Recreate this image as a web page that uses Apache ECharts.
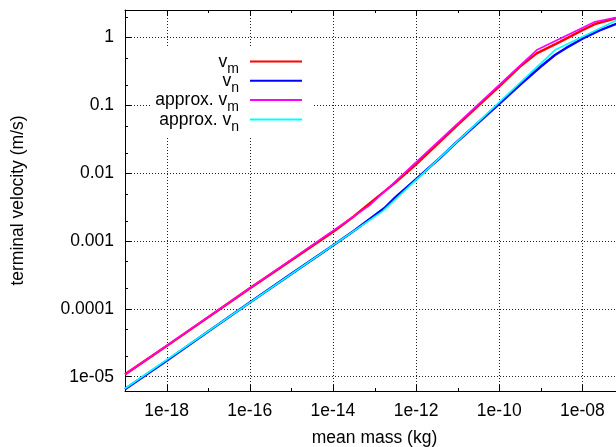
<!DOCTYPE html>
<html><head><meta charset="utf-8">
<script src="https://cdn.jsdelivr.net/npm/echarts@6/dist/echarts.min.js"></script>
<style>html,body{margin:0;padding:0;background:#fff}#c{width:616px;height:447px}</style>
</head><body><div id="c"></div>
<script>
// ---- data (mass in kg, velocity in m/s) ----
const massVm = [1e-19, 1e-18, 1e-17, 1e-16, 1e-15, 1e-14, 3.16e-14, 7.5e-14, 3.16e-13, 1e-12, 1e-11, 1e-10, 3.16e-10, 7.94e-10, 2.88e-9, 1e-8, 2e-8, 6.3e-8, 1e-7];
const vm     = [1.08e-5, 2.84e-5, 7.50e-5, 2.00e-4, 5.19e-4, 1.36e-3, 2.29e-3, 3.55e-3, 7.24e-3, 1.35e-2, 5.13e-2, 0.19, 0.372, 0.581, 0.861, 1.28, 1.57, 1.91, 2.0];

const massVn = [1e-19, 1e-18, 1e-17, 1e-16, 1e-15, 1e-14, 3.16e-14, 1.74e-13, 3.16e-13, 1e-12, 3.63e-12, 1e-11, 1e-10, 3.16e-10, 1e-9, 2.19e-9, 3.98e-9, 1e-8, 2.51e-8, 6.3e-8, 1e-7];
const vn     = [6.55e-6, 1.72e-5, 4.62e-5, 1.24e-4, 3.27e-4, 8.55e-4, 1.40e-3, 3.05e-3, 4.37e-3, 8.13e-3, 1.64e-2, 2.95e-2, 0.105, 0.20, 0.372, 0.55, 0.692, 0.955, 1.26, 1.57, 1.66];

const massApproxVm = [1e-19, 7.5e-14, 7.94e-10, 2e-8, 1e-7];
const approxVm     = [1.08e-5, 3.31e-3, 0.65, 1.70, 2.06];

const massApproxVn = [1e-19, 1.58e-13, 2.19e-9, 6.3e-8, 1e-7];
const approxVn     = [6.70e-6, 2.75e-3, 0.65, 1.76, 1.95];

const seriesNames = ['v_m', 'v_n', 'approx. v_m', 'approx. v_n'];
const seriesColors = ['#ff0000', '#0000ff', '#ff00ff', '#00ffff'];
const seriesWidths = [2.5, 2.5, 1.6, 1.6];

// ---- axes ----
const xMin = 1e-19, xMax = 1e-7, yMin = 6.15e-6, yMax = 2.53;
const xTickValues = [1e-18, 1e-16, 1e-14, 1e-12, 1e-10, 1e-8];
const xTickLabels = ['1e-18', '1e-16', '1e-14', '1e-12', '1e-10', '1e-08'];
const xMinorTickValues = [1e-17, 1e-15, 1e-13, 1e-11, 1e-9];
const yTickValues = [1e-5, 1e-4, 1e-3, 0.01, 0.1, 1];
const yTickLabels = ['1e-05', '0.0001', '0.001', '0.01', '0.1', '1'];
const yMinorTickValues = [2e-5, 5e-5, 2e-4, 5e-4, 2e-3, 5e-3, 0.02, 0.05, 0.2, 0.5, 2];

function lookup(values, labels, v) {
  const lv = Math.log10(v);
  for (let i = 0; i < values.length; i++) {
    if (Math.abs(Math.log10(values[i]) - lv) < 1e-3) return labels[i];
  }
  return '';
}
function pairs(xs, ys) { return xs.map((x, i) => [x, ys[i]]); }

const tickItems = [];
xTickValues.forEach(v => tickItems.push([v, yMin, 6, 0]));
xMinorTickValues.forEach(v => tickItems.push([v, yMin, 3, 0]));
yMinorTickValues.forEach(v => tickItems.push([xMin, v, 3, 1]));
const gridItems = xTickValues.map(v => [v, yMin]);

const FONT = 'Liberation Sans';
const FS = 17.5;
const gridDash = {color: '#222', type: [1, 2], width: 1};

const chart = echarts.init(document.getElementById('c'), null, {renderer: 'canvas'});
const lineData = [pairs(massVm, vm), pairs(massVn, vn), pairs(massApproxVm, approxVm), pairs(massApproxVn, approxVn)];

const series = lineData.map((d, i) => ({
  name: seriesNames[i], type: 'line', data: d, symbol: 'none', showSymbol: false,
  lineStyle: {color: seriesColors[i], width: seriesWidths[i]}, itemStyle: {color: seriesColors[i]},
  animation: false, clip: true, z: 3
}));
series.push({
  type: 'custom', name: 'vgrid', data: gridItems, silent: true, animation: false, z: 1,
  encode: {x: 0, y: 1},
  renderItem: function (params, api) {
    const x = api.value(0);
    const pb = api.coord([x, yMin]); const pt = api.coord([x, yMax]);
    const xx = Math.round(pb[0]) + 0.5;
    return {type: 'line', shape: {x1: xx, y1: pb[1], x2: xx, y2: pt[1]},
      style: {stroke: '#222', lineWidth: 1, lineDash: [1, 2]}};
  }
});
series.push({
  type: 'custom', name: 'ticks', data: tickItems, silent: true, animation: false, z: 4,
  encode: {x: 0, y: 1},
  renderItem: function (params, api) {
    const x = api.value(0), y = api.value(1), len = api.value(2), o = api.value(3);
    const st = {stroke: '#000', lineWidth: 1};
    if (o === 0) {
      const pb = api.coord([x, yMin]); const pt = api.coord([x, yMax]);
      const xx = Math.round(pb[0]) + 0.5;
      return {type: 'group', children: [
        {type: 'line', shape: {x1: xx, y1: pb[1], x2: xx, y2: pb[1] - len}, style: st},
        {type: 'line', shape: {x1: xx, y1: pt[1], x2: xx, y2: pt[1] + len}, style: st}
      ]};
    }
    const p = api.coord([xMin, y]);
    const yy = Math.round(p[1]) + 0.5;
    return {type: 'line', shape: {x1: p[0], y1: yy, x2: p[0] + len, y2: yy}, style: st};
  }
});

chart.setOption({
  animation: false,
  backgroundColor: '#fff',
  textStyle: {fontFamily: FONT, color: '#000'},
  grid: {left: 125, top: 10, width: 499, height: 381, containLabel: false, outerBoundsMode: 'none'},
  legend: {
    data: seriesNames.map((n, i) => ({name: n, itemStyle: {color: seriesColors[i]}})),
    orient: 'vertical', align: 'right',
    right: 303, top: 47, padding: [6, 11, 4, 4], itemGap: -3.7,
    backgroundColor: '#fff', z: 10,
    icon: 'rect', itemWidth: 52, itemHeight: 2,
    selectedMode: false,
    formatter: function (name) {
      const i = name.lastIndexOf('_');
      return '{n|' + name.slice(0, i) + '}{s|' + name.slice(i + 1) + '}';
    },
    textStyle: {
      fontFamily: FONT, fontSize: FS, color: '#000', padding: [0, 6, 0, 0],
      rich: {
        n: {fontFamily: FONT, fontSize: FS, lineHeight: 17, verticalAlign: 'top', color: '#000'},
        s: {fontFamily: FONT, fontSize: 14, lineHeight: 13, padding: [9, 0, 0, 0], verticalAlign: 'top', color: '#000'}
      }
    }
  },
  xAxis: [{
    type: 'log', logBase: 10, min: xMin, max: xMax, interval: 1,
    name: 'mean mass (kg)', nameLocation: 'middle', nameGap: 38,
    nameTextStyle: {fontFamily: FONT, fontSize: FS, color: '#000'},
    axisLine: {show: true, onZero: false, lineStyle: {color: '#000', width: 1}},
    axisTick: {show: false},
    axisLabel: {fontFamily: FONT, fontSize: FS, color: '#000', margin: 11,
      showMinLabel: true, showMaxLabel: true, hideOverlap: false,
      formatter: v => lookup(xTickValues, xTickLabels, v)},
    splitLine: {show: false}
  }, {
    type: 'log', logBase: 10, min: xMin, max: xMax, interval: 1, position: 'top',
    axisLine: {show: true, onZero: false, lineStyle: {color: '#000', width: 1}},
    axisTick: {show: false}, axisLabel: {show: false}, splitLine: {show: false}
  }],
  yAxis: {
    type: 'log', logBase: 10, min: yMin, max: yMax,
    name: 'terminal velocity (m/s)', nameLocation: 'middle', nameGap: 98,
    nameTextStyle: {fontFamily: FONT, fontSize: FS, color: '#000'},
    axisLine: {show: true, onZero: false, lineStyle: {color: '#000', width: 1}},
    axisTick: {show: true, inside: true, length: 6, lineStyle: {color: '#000'}},
    axisLabel: {fontFamily: FONT, fontSize: FS, color: '#000', margin: 11,
      hideOverlap: false,
      formatter: v => lookup(yTickValues, yTickLabels, v)},
    splitLine: {show: true, lineStyle: gridDash}
  },
  series: series
});
</script></body></html>
